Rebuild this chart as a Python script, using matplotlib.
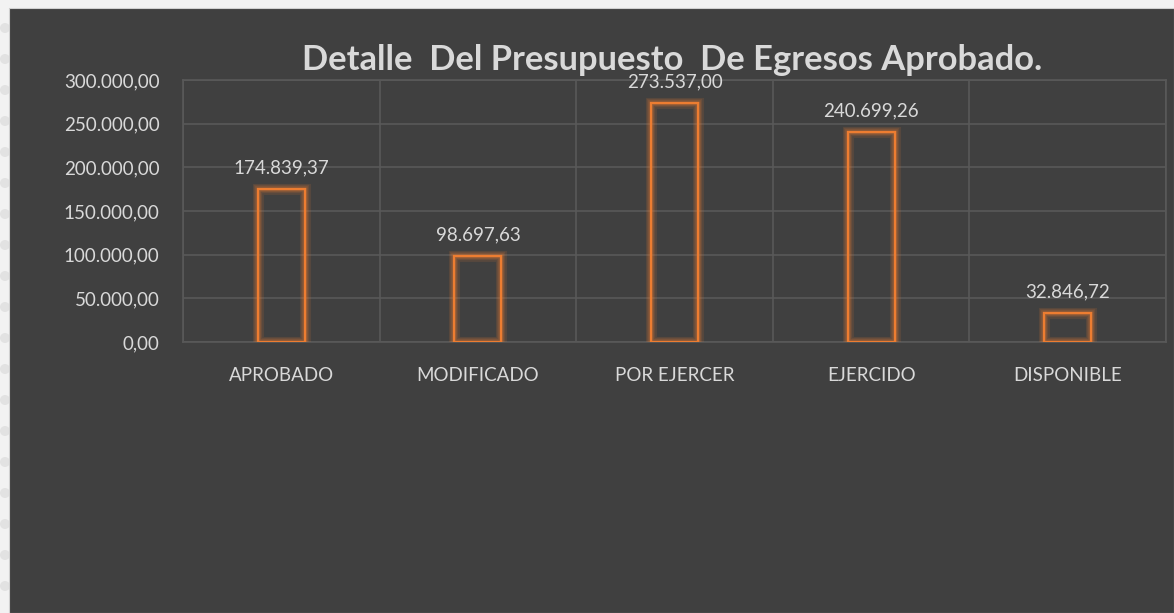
import matplotlib.pyplot as plt
import matplotlib.patches as mpatches
import numpy as np

# datos del grafico
categorias = ["APROBADO", "MODIFICADO", "POR EJERCER", "EJERCIDO", "DISPONIBLE"]
valores = [174839.37, 98697.63, 273537.00, 240699.26, 32846.72]
y_ticks = [0, 50000, 100000, 150000, 200000, 250000, 300000]
titulo = "Detalle  Del Presupuesto  De Egresos Aprobado."

FONDO = "#404040"
TEXTO = "#D9D9D9"
GRID = "#595959"
NARANJA = "#ED7D31"

plt.rcParams['font.family'] = ['Lato', 'DejaVu Sans']


def formato_es(v):
    # 1234.5 -> 1.234,50
    s = f"{v:,.2f}"
    return s.replace(",", "X").replace(".", ",").replace("X", ".")


W, H = 1174, 613
fig = plt.figure(figsize=(W / 100, H / 100), dpi=100)
fig.patch.set_facecolor("#F2F2F2")

# circulos decorativos en el borde izquierdo
for yy in np.arange(28, H, 31):
    fig.patches.append(mpatches.Ellipse((5 / W, 1 - yy / H), 10 / W, 10 / H, transform=fig.transFigure,
                                        facecolor="#E2E2E2", edgecolor="none", zorder=-2))
# panel oscuro de fondo
fig.patches.append(mpatches.Rectangle((9 / W, 0), 1 - 9 / W, 1 - 8 / H, transform=fig.transFigure,
                                      facecolor=FONDO, edgecolor="#D0D0D0", linewidth=0.8, zorder=-1))

ax = fig.add_axes([183 / W, 1 - 342 / H, (1166 - 183) / W, (342 - 80) / H])
ax.set_facecolor(FONDO)
ax.set_zorder(1)

x = np.arange(len(categorias))
ancho = 0.24

# brillo alrededor de las barras
for lw, a in [(8, 0.12), (6, 0.14), (4, 0.18), (2.5, 0.22)]:
    ax.bar(x, valores, width=ancho, facecolor="none", edgecolor=NARANJA, linewidth=lw,
           alpha=a, zorder=3)
ax.bar(x, valores, width=ancho, facecolor="none", edgecolor=NARANJA, linewidth=1.6, zorder=4)

for xi, v in zip(x, valores):
    ax.annotate(formato_es(v), (xi, v), xytext=(0, 21), textcoords="offset pixels",
                ha="center", va="center", color=TEXTO, fontsize=13.5, zorder=5,
                annotation_clip=False)

ax.set_xlim(-0.5, len(categorias) - 0.5)
ax.set_ylim(0, 300000)
ax.set_yticks(y_ticks)
ax.set_yticklabels([formato_es(t) for t in y_ticks])
ax.set_xticks(x)
ax.set_xticklabels(categorias)
ax.tick_params(axis="both", length=0, colors=TEXTO, labelsize=13.5)
ax.tick_params(axis="y", pad=17)
ax.tick_params(axis="x", pad=18)

# lineas de cuadricula
ax.set_xticks(np.arange(-0.5, len(categorias)), minor=True)
ax.tick_params(axis="x", which="minor", length=0)
ax.grid(True, axis="y", color=GRID, linewidth=1.2, zorder=1)
ax.grid(True, axis="x", which="minor", color=GRID, linewidth=1.2, zorder=1)
ax.grid(False, axis="x", which="major")
ax.set_axisbelow(True)
for s in ax.spines.values():
    s.set_color(GRID)
    s.set_linewidth(1.2)

fig.text(672 / W, 1 - 60 / H, titulo, ha="center", va="center", color=TEXTO,
         fontsize=24.8, fontweight="bold", zorder=6)

fig.savefig("out.png", dpi=100, facecolor=fig.get_facecolor())
